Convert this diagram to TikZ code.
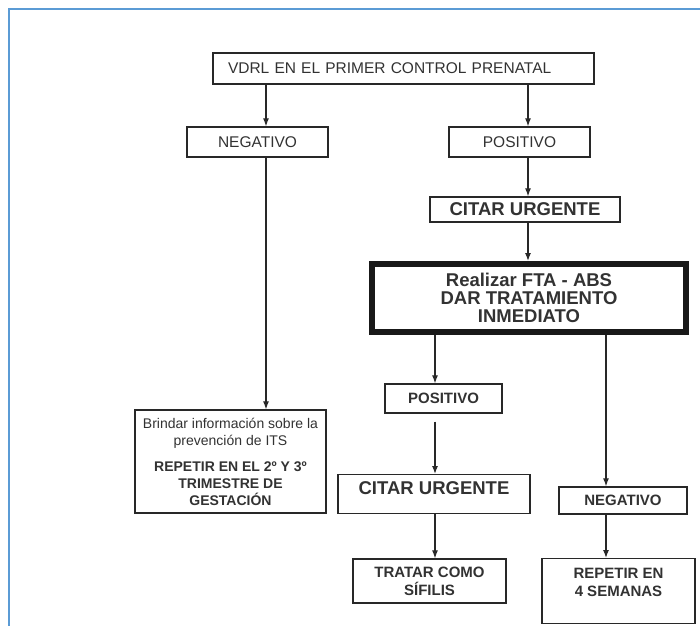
\documentclass[tikz,border=0pt]{standalone}
\usepackage{fontspec}
\setmainfont{Liberation Sans}
\usetikzlibrary{arrows.meta}
\definecolor{marco}{RGB}{91,155,213}
\definecolor{tinta}{RGB}{50,50,50}

\begin{document}
\begin{tikzpicture}[x=1pt,y=-1pt,
	caja/.style={draw=tinta!80!black, line width=1.3pt, text=tinta, inner sep=0pt, align=center},
	normal/.style={font=\fontsize{15.5}{17}\selectfont},
	chica/.style={font=\fontsize{14}{17}\selectfont},
	media/.style={font=\bfseries\fontsize{15}{18}\selectfont},
	grande/.style={font=\bfseries\fontsize{18.5}{18}\selectfont},
	flecha/.style={draw=tinta!80!black, line width=1.2pt, -{Latex[length=8pt,width=6pt]}}]
			\useasboundingbox (0,0) rectangle (700,625);
			\draw[marco, line width=2.2pt] (9,640) -- (9,9) -- (720,9);
			% columnas de las flechas
			\coordinate (colneg) at (266,0);
			\coordinate (colpos) at (528,0);
			\coordinate (colizq) at (435,0);
			\coordinate (colder) at (606,0);
			% primera parte
			\node[caja, normal, minimum width=381, minimum height=31, text width=351, align=left] (vdrl) at (403.5,68.5) {VDRL EN EL PRIMER CONTROL PRENATAL};
			\node[caja, normal, minimum width=141, minimum height=30] (neg1) at (257.5,142) {NEGATIVO};
			\node[caja, normal, minimum width=141, minimum height=30] (pos1) at (519.5,142) {POSITIVO};
			\node[caja, grande, minimum width=190, minimum height=25] (cit1) at (525,209.5) {CITAR URGENTE};
			\node[caja, grande, draw=black!90, line width=6pt, minimum width=314, minimum height=68] (fta) at (529,298) {Realizar FTA - ABS\\DAR TRATAMIENTO\\INMEDIATO};
			\node[caja, chica, minimum width=191, minimum height=103] (info) at (230.5,461.5) {Brindar información sobre la\\prevención de ITS\\[9pt]\textbf{REPETIR EN EL 2º Y 3º}\\\textbf{TRIMESTRE DE}\\\textbf{GESTACIÓN}};
			% segunda parte
			\node[caja, media, minimum width=117, minimum height=29] (pos2) at (443.5,398.5) {POSITIVO};
			\node[caja, grande, anchor=north, inner ysep=6.5pt] (cit2) at (434,474) {\parbox[c][26pt][t]{192pt}{\centering CITAR URGENTE}};
			\node[caja, media, minimum width=153, minimum height=44] (trat) at (429.5,581) {TRATAR COMO\\SÍFILIS};
			\node[caja, media, minimum width=128, minimum height=27] (neg2) at (623,500.5) {NEGATIVO};
			\node[caja, media, anchor=north, inner ysep=9.5pt] (rep) at (618.5,558) {\parbox[c][46pt][t]{153pt}{\centering REPETIR EN\\4 SEMANAS}};
			% flechas
			\draw[flecha] (vdrl.south -| colneg) -- (neg1.north -| colneg);
			\draw[flecha] (vdrl.south -| colpos) -- (pos1.north -| colpos);
			\draw[flecha] (pos1.south -| colpos) -- (cit1.north -| colpos);
			\draw[flecha] (cit1.south -| colpos) -- (fta.north -| colpos);
			\draw[flecha] (neg1.south -| colneg) -- (info.north -| colneg);
			\draw[flecha] (fta.south -| colizq) -- (pos2.north -| colizq);
			\draw[flecha, shorten <=8pt] (pos2.south -| colizq) -- (cit2.north -| colizq);
			\draw[flecha] (cit2.south -| colizq) -- (trat.north -| colizq);
			\draw[flecha] (fta.south -| colder) -- (neg2.north -| colder);
			\draw[flecha] (neg2.south -| colder) -- (rep.north -| colder);
\end{tikzpicture}
\end{document}
